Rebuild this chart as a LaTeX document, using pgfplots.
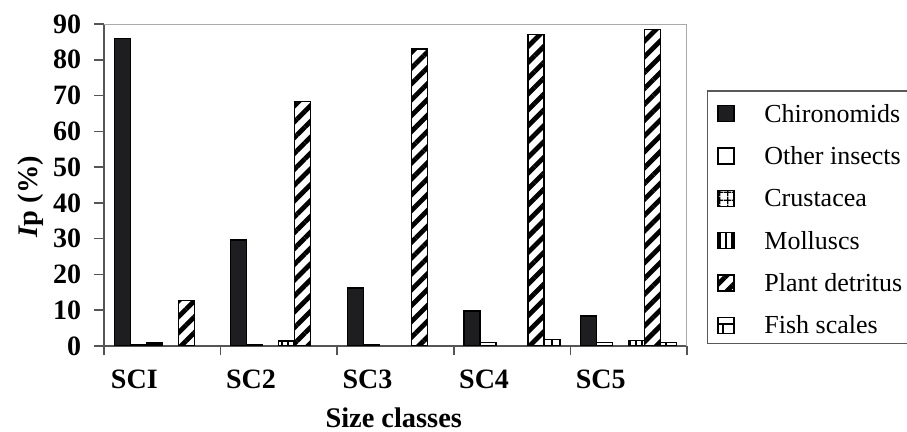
\documentclass[border=0pt]{standalone}
\usepackage{fontspec}
\setmainfont{Liberation Serif}
\usepackage{pgfplots}
\pgfplotsset{compat=1.18}
\usetikzlibrary{patterns,patterns.meta}
\definecolor{barblack}{HTML}{1E1E20}
\definecolor{axgray}{HTML}{555555}
\definecolor{bordergray}{HTML}{AAAAAA}
\begin{document}
\begin{tikzpicture}
\useasboundingbox (0,0) rectangle (453.5pt,216pt);
\begin{axis}[
  at={(52pt,43pt)}, anchor=south west,
  scale only axis, width=291.5pt, height=161pt,
  xmin=0, xmax=5, ymin=0, ymax=90,
  axis lines=left, axis line style={-, axgray, line width=0.8pt},
  ybar=0pt, bar width=8pt,
  legend image code/.code={\path[draw=none, fill=none] (0pt,0.2pt) -- (23.15pt,0.2pt); \draw[#1, line width=0.6pt] (0pt,0.2pt) rectangle (8pt,8.2pt);},
  xtick={0,1,2,3,4,5}, xticklabels={},
  extra x ticks={0.26,1.26,2.26,3.26,4.26},
  extra x tick labels={SCI,SC2,SC3,SC4,SC5},
  extra x tick style={major tick length=0pt, xticklabel style={anchor=base, yshift=-21.5pt, inner sep=0pt}},
  ytick={0,10,...,90},
  tick align=outside, major tick length=4.75pt,
  tick style={axgray, line width=0.8pt},
  ticklabel style={font=\fontsize{14}{16}\selectfont\bfseries},
  /pgf/number format/assume math mode=true,
  yticklabel style={anchor=east, inner sep=0pt, xshift=-6.5pt},
  xlabel={Size classes},
  ylabel={\textit{I}p (\%)},
  every axis x label/.style={at={(axis description cs:0.497,0)}, anchor=base, yshift=-41pt, inner sep=0pt, font=\fontsize{14.2}{16}\selectfont\bfseries},
  every axis y label/.style={at={(axis description cs:-0.125,0.463)}, anchor=center, rotate=90, inner sep=0pt, font=\fontsize{14.2}{16}\selectfont\bfseries},
  legend style={at={(axis description cs:1,1)}, anchor=north west, xshift=9.85pt, yshift=-33pt,
    draw=gray!70!black, line width=0.8pt, inner xsep=5pt, inner ysep=2pt,
    row sep=4.65pt, font=\fontsize{13}{15}\selectfont,
    nodes={inner sep=0pt, text height=13.65pt, text depth=2.85pt},
    cells={anchor=base west}},
]
\addplot[fill=barblack, draw=black, line width=0.6pt] coordinates {(0.5,86) (1.5,29.6) (2.5,16.2) (3.5,9.8) (4.5,8.4)};
\addplot[fill=white, draw=black, line width=0.6pt] coordinates {(0.5,0.5) (1.5,0.5) (2.5,0.5) (3.5,0.9) (4.5,0.9)};
\addplot[fill=white, draw=black, line width=0.6pt, pattern={Hatch[angle=0,distance=4pt,line width=0.6pt]}] coordinates {(0.5,0.9)};
\addplot[fill=white, draw=black, line width=0.6pt, pattern={Lines[angle=90,distance=3pt,line width=1.1pt]}] coordinates {(1.5,1.4) (4.5,1.6)};
\addplot[fill=white, draw=black, line width=0.6pt, pattern={Lines[angle=45,distance=5.6pt,line width=2.4pt]}] coordinates {(0.5,12.7) (1.5,68.4) (2.5,83.0) (3.5,87.1) (4.5,88.5)};
\addplot[fill=white, draw=black, line width=0.6pt, pattern=bricks] coordinates {(3.5,1.9) (4.5,0.9)};
\legend{Chironomids, Other insects, Crustacea, Molluscs, Plant detritus, Fish scales}
\draw[bordergray, line width=0.8pt] (rel axis cs:0,1) -- (rel axis cs:1,1) -- (rel axis cs:1,0);
\end{axis}
\end{tikzpicture}
\end{document}
